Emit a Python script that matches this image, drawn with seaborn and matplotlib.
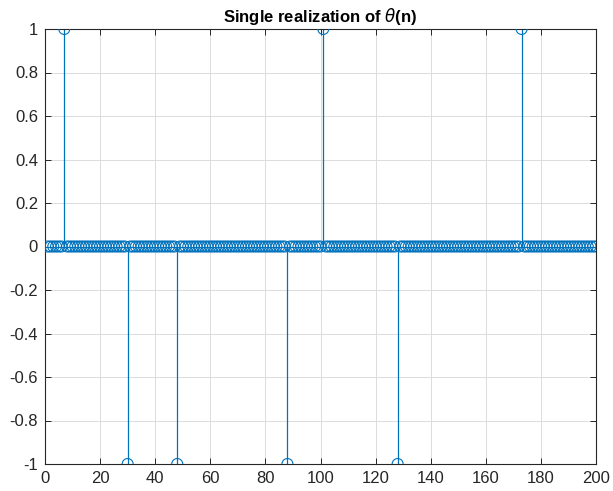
import matplotlib
matplotlib.use("Agg")
import matplotlib.pyplot as plt
import seaborn as sns
import numpy as np
import pandas as pd

# sample index and the nonzero spikes of theta(n)
n = np.arange(1, 201)
spike_pos = [7, 30, 48, 88, 101, 128, 173]
spike_val = [1, -1, -1, -1, 1, -1, 1]

theta = np.zeros(len(n))
for p, v in zip(spike_pos, spike_val):
    theta[p - 1] = v

df = pd.DataFrame({"n": n, "theta": theta})

sns.set_style("white")
plt.rcParams["font.family"] = ["Liberation Sans", "DejaVu Sans"]

fig = plt.figure(figsize=(6.13, 4.91), dpi=100)
ax = fig.add_axes([45 / 613, 1 - 464 / 491, 551 / 613, 435 / 491])

blue = "#0072BD"
ax.axhline(0, color=blue, lw=0.9, zorder=2)
ax.vlines(df["n"], 0, df["theta"], color=blue, lw=0.9, zorder=2)
sns.scatterplot(data=df, x="n", y="theta", ax=ax, marker="o", s=62,
                facecolor="none", edgecolor=blue, linewidth=0.8, zorder=3,
                legend=False)

ax.set_xlim(0, 200)
ax.set_ylim(-1, 1)
ax.set_xticks(np.arange(0, 201, 20))
ax.set_yticks(np.round(np.arange(-1, 1.01, 0.2), 1))
ax.set_yticklabels(["-1", "-0.8", "-0.6", "-0.4", "-0.2", "0",
                    "0.2", "0.4", "0.6", "0.8", "1"])
ax.grid(True, color="#dcdcdc", lw=0.7)
ax.set_axisbelow(True)
ax.set_xlabel("")
ax.set_ylabel("")
for s in ax.spines.values():
    s.set_color("#262626")
    s.set_linewidth(0.8)
    s.set_visible(True)
ax.tick_params(direction="in", length=4, width=0.7, color="#262626",
               labelsize=12, labelcolor="#262626", top=True, right=True,
               bottom=True, left=True, pad=5)
for lab in ax.get_xticklabels() + ax.get_yticklabels():
    lab.set_clip_on(False)
ax.set_title(r"Single realization of $\theta$(n)", fontsize=12,
             fontweight="bold", color="black", pad=5)

fig.savefig("out.png", dpi=100, facecolor="white")
